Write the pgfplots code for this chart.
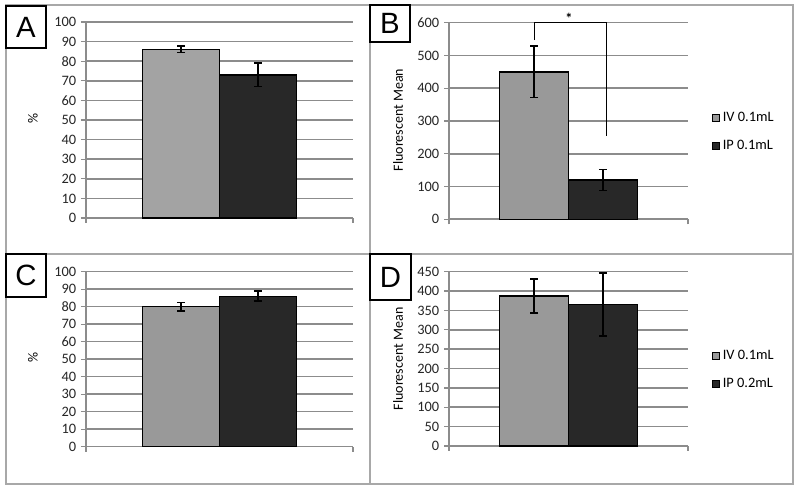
\documentclass[border=0pt]{standalone}
\usepackage{pgfplots}
\pgfplotsset{compat=1.18}
\usepackage{fontspec}
\setmainfont{Carlito}
\newfontfamily\arialf{Liberation Sans}
\definecolor{lgray}{HTML}{A3A3A3}
\definecolor{mgray}{HTML}{999999}
\definecolor{dgray}{HTML}{282828}
\definecolor{gridc}{HTML}{8C8C8C}
\definecolor{framec}{HTML}{A8A8A8}
\pgfplotsset{
 panel/.style={
  scale only axis, anchor=south west,
  xmin=0, xmax=1, ymin=0,
  axis lines=left, axis line style={-, draw=gridc, line width=1.2pt},
  xtick={0,1}, xticklabels={},
  ymajorgrids, grid style={draw=gridc, line width=1.2pt},
  tick align=outside, major tick length=3.75pt,
  tick style={draw=gridc, line width=1pt},
  /pgf/number format/assume math mode=true,
  tick label style={font=\fontsize{10.8}{12}\selectfont, text=black!85},
  ylabel style={font=\fontsize{10.5}{12}\selectfont, anchor=center},
  clip=false,
  legend cell align=left,
  legend style={draw=none, fill=none, anchor=west, font=\fontsize{10.8}{12}\selectfont, inner sep=0pt, row sep=8pt},
 },
 mybar/.style={ybar, bar width=0.2877, bar shift=0pt, draw=black, line width=1pt, fill=#1,
   legend image code/.code={\draw[fill=#1, draw=black, line width=0.8pt] (0pt,-2.6pt) rectangle (5.2pt,2.6pt);},
   /pgfplots/error bars/y dir=both, /pgfplots/error bars/y explicit,
   /pgfplots/error bars/error bar style={line width=1.2pt, black},
   /pgfplots/error bars/error mark options={rotate=90, mark size=3pt, line width=1.2pt, black}},
}
\begin{document}
\begin{tikzpicture}
\useasboundingbox (0,0) rectangle (600pt,368.25pt);
\fill[white] (0,0) rectangle (600pt,368.25pt);
% frames
\draw[framec, line width=1.2pt] (4.5pt,5.25pt) rectangle (594.75pt,364.5pt);
\draw[framec, line width=1.2pt] (277.5pt,5.25pt) -- (277.5pt,364.5pt);
\draw[framec, line width=1.2pt] (4.5pt,177.75pt) -- (594.75pt,177.75pt);

% Panel A
\begin{axis}[panel, at={(64.5pt,204.75pt)}, width=200.25pt, height=147pt,
  ymax=100, ytick distance=10, ylabel={\%},
  ylabel style={at={(axis description cs:-0.199,0.51)}}]
\addplot[mybar=lgray] coordinates {(0.356,86) +- (0,1.6)};
\addplot[mybar=dgray] coordinates {(0.644,73) +- (0,6)};
\end{axis}

% Panel B
\begin{axis}[panel, at={(336.75pt,203.78pt)}, width=179.25pt, height=147.45pt,
  ymax=600, ytick distance=100, ylabel={Fluorescent Mean},
  ylabel style={at={(axis description cs:-0.213,0.505)}},
  legend style={at={(1.1,0.444)}}]
\addplot[mybar=mgray] coordinates {(0.356,450) +- (0,78)};
\addlegendentry{IV 0.1mL}
\addplot[mybar=dgray] coordinates {(0.644,120) +- (0,32)};
\addlegendentry{IP 0.1mL}
\draw[black, line width=0.7pt] (axis cs:0.356,547) -- (axis cs:0.356,600) -- (axis cs:0.657,600) -- (axis cs:0.657,254);
\node[font=\bfseries\fontsize{10.8}{12}\selectfont] at (axis cs:0.502,614) {*};
\end{axis}

% Panel C
\begin{axis}[panel, at={(64.5pt,33.23pt)}, width=200.25pt, height=131.25pt,
  ymax=100, ytick distance=10, ylabel={\%},
  ylabel style={at={(axis description cs:-0.199,0.507)}}]
\addplot[mybar=mgray] coordinates {(0.356,80) +- (0,2.5)};
\addplot[mybar=dgray] coordinates {(0.644,86) +- (0,2.8)};
\end{axis}

% Panel D
\begin{axis}[panel, at={(336.75pt,33.75pt)}, width=179.25pt, height=130.73pt,
  ymax=450, ytick distance=50, ylabel={Fluorescent Mean},
  ylabel style={at={(axis description cs:-0.213,0.5)}},
  legend style={at={(1.1,0.436)}}]
\addplot[mybar=mgray] coordinates {(0.356,387) +- (0,44)};
\addlegendentry{IV 0.1mL}
\addplot[mybar=dgray] coordinates {(0.644,365) +- (0,81)};
\addlegendentry{IP 0.2mL}
\end{axis}

% panel letters
\draw[black, line width=0.8pt, fill=white] (4.5pt,332.25pt) rectangle (34.5pt,363.75pt);
\node[font=\arialf\fontsize{22}{24}\selectfont] at (19.5pt,348pt) {A};
\draw[black, line width=0.8pt, fill=white] (277.5pt,336.75pt) rectangle (307.5pt,364.5pt);
\node[font=\arialf\fontsize{22}{24}\selectfont] at (292.5pt,350.6pt) {B};
\draw[black, line width=0.8pt, fill=white] (4.5pt,145.5pt) rectangle (34.5pt,177.75pt);
\node[font=\arialf\fontsize{22}{24}\selectfont] at (19.5pt,161.6pt) {C};
\draw[black, line width=0.8pt, fill=white] (277.5pt,143.25pt) rectangle (308.25pt,177.75pt);
\node[font=\arialf\fontsize{22}{24}\selectfont] at (292.9pt,160.5pt) {D};
\end{tikzpicture}
\end{document}
